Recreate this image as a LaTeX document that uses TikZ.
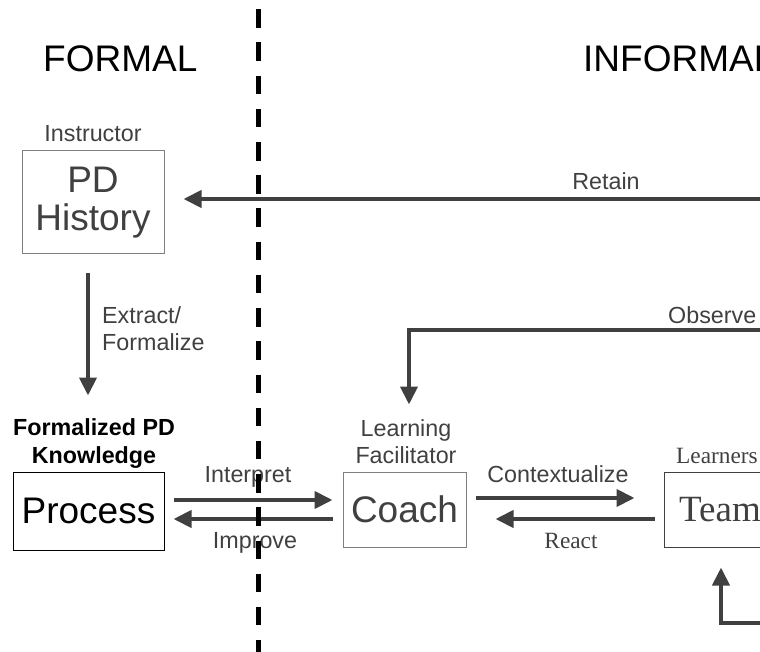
\documentclass[tikz,border=0pt]{standalone}
\usepackage{fontspec}
\setmainfont{Liberation Sans}
\newfontfamily\serifface{Liberation Serif}
\usetikzlibrary{arrows.meta,calc}
\definecolor{arr}{HTML}{404040}
\definecolor{txt}{HTML}{404040}
\definecolor{boxgray}{HTML}{808080}
\begin{document}
\begin{tikzpicture}[x=1pt,y=-1pt,
  big/.style={font=\fontsize{37}{38}\selectfont},
  lbl/.style={font=\fontsize{23.3}{27}\selectfont, text=txt, inner sep=0pt, anchor=base},
  flow/.style={draw=arr, line width=4pt, -{Triangle[length=18pt,width=17pt]}},
  box/.style={draw, line width=1pt, inner sep=0pt, big},
]
\useasboundingbox (0,0) rectangle (760,652);
\clip (0,0) rectangle (760,652);

% headings
\node[big, inner sep=0pt, anchor=base west] (formal) at (43,72) {FORMAL};
\node[big, inner sep=0pt, anchor=base west] (informal) at (583,72) {INFORMAL};

% boxes
\node[lbl] (instructor) at (93,142) {Instructor};
\node[box, draw=boxgray, text=txt, minimum width=142pt, minimum height=103pt, align=center] (hist) at (93,202.5) {PD\\History};
\node[lbl, font=\fontsize{23.3}{28}\selectfont\bfseries, text=black, align=center] (fpk) at (94,463) {Formalized PD\\Knowledge};
\node[box, minimum width=151pt, minimum height=78pt] (proc) at (88.5,511) {Process};
\node[lbl, align=center] (lf) at (406,463) {Learning\\Facilitator};
\node[box, draw=boxgray, text=txt, minimum width=123pt, minimum height=75pt] (coach) at (404.5,509.5) {Coach};
\node[lbl, font=\serifface\fontsize{23.3}{27}\selectfont, anchor=base west] (learners) at (676,463) {Learners};
\node[box, draw=arr, text=txt, font=\serifface\fontsize{37}{38}\selectfont, minimum width=112pt, minimum height=75pt] (team) at (720,509.5) {Team};

% free ends
\coordinate (rsrc) at (775,199);
\coordinate (osrc) at (775,330);
\coordinate (bsrc) at (775,623);

% connectors
\draw[flow] (rsrc) -- ($(hist.east |- rsrc)+(19,0)$);
\draw[flow] (osrc) -| ($(coach.north)+(4.5,-67)$);
\draw[flow] ($(hist.south)+(-5,19)$) -- ($(proc.north)+(-0.5,-76)$);
\draw[flow] ($(proc.east)+(9,-11)$) -- ($(coach.west)+(-10,-9.5)$);
\draw[flow] ($(coach.west)+(-10,9.5)$) -- ($(proc.east)+(9,8)$);
\draw[flow] ($(coach.east)+(9,-11.5)$) -- ($(team.west)+(-29,-11.5)$);
\draw[flow] ($(team.west)+(-9,9.5)$) -- ($(coach.east)+(29,9.5)$);
\draw[flow] (bsrc) -| ($(team.south)+(1,20)$);

% connector labels
\node[lbl] (retain) at (606,190) {Retain};
\node[lbl, anchor=base west] (observe) at (668,323) {Observe};
\node[lbl, anchor=base west, align=left] (extract) at (102,350) {Extract/\\Formalize};
\node[lbl] (interpret) at (248,482.5) {Interpret};
\node[lbl] (improve) at (255,548.5) {Improve};
\node[lbl] (context) at (558,482) {Contextualize};
\node[lbl, font=\serifface\fontsize{23.3}{27}\selectfont] (react) at (571,548) {React};

% formal / informal divider
\coordinate (dtop) at (258.5,9.3);
\coordinate (dbot) at (258.5,670);
\draw[line width=5pt, dash pattern=on 18.5pt off 14.7pt] (dtop) -- (dbot);
\end{tikzpicture}
\end{document}
